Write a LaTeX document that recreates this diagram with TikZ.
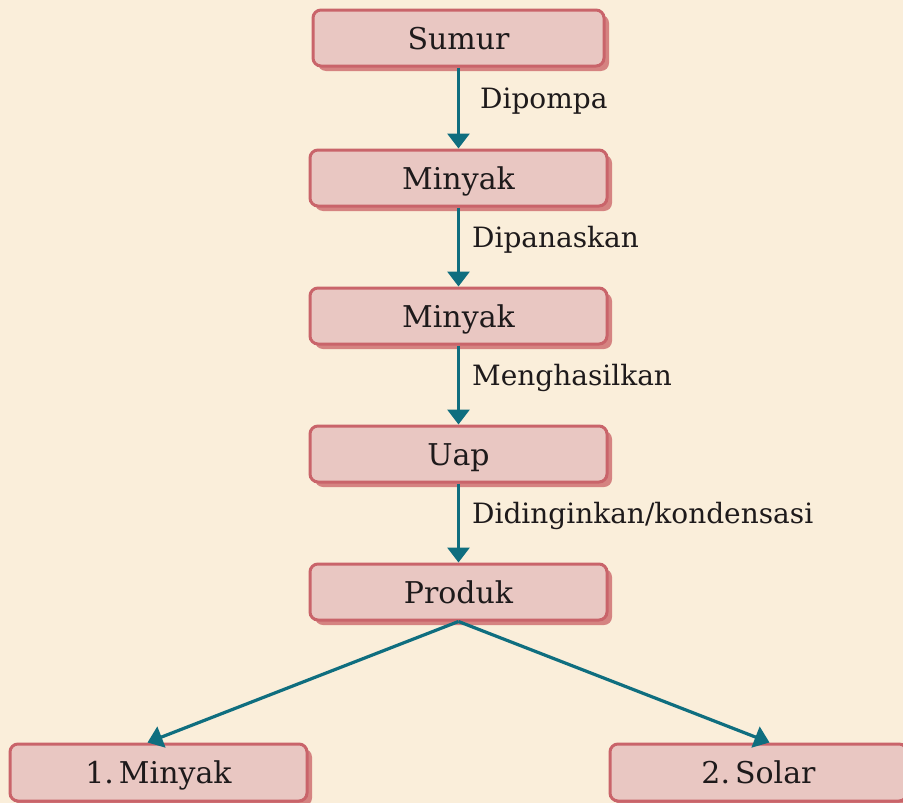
\documentclass[tikz,border=0pt]{standalone}
\usepackage{fontspec}
\setmainfont{DejaVu Serif}
\usetikzlibrary{arrows.meta,positioning,shadows}
\definecolor{bgcream}{HTML}{FAEEDA}
\definecolor{boxfill}{HTML}{E9C7C2}
\definecolor{boxline}{HTML}{C9646A}
\definecolor{boxshadow}{HTML}{D58381}
\definecolor{flowteal}{HTML}{0F6E7F}
\definecolor{ink}{HTML}{1E1A1B}
\begin{document}
\begin{tikzpicture}[x=1pt,y=-1pt,
  box/.style={draw=boxline,fill=boxfill,line width=3pt,rounded corners=8pt,
    minimum width=297pt,minimum height=56pt,inner sep=0pt,text=ink,
    text height=22pt,text depth=0pt,
    font=\fontsize{30}{34}\selectfont,
    drop shadow={shadow xshift=5pt,shadow yshift=-5pt,fill=boxshadow,opacity=1}},
  flow/.style={draw=flowteal,line width=3.2pt,-{Triangle[width=22pt,length=15pt]}},
  lbl/.style={font=\fontsize{28}{32}\selectfont,text=ink,anchor=base west,
    inner sep=0pt,xshift=12pt}]
  % background
  \fill[bgcream] (0,0) rectangle (903,803);
  \useasboundingbox (0,0) rectangle (903,803);
  % process chain
  \node[box,minimum width=291pt] (sumur) at (458.5,38) {Sumur};
  \node[box] (minyak) at (458.5,178) {Minyak};
  \node[box] (minyakb) at (458.5,316) {Minyak};
  \node[box] (uap) at (458.5,454) {Uap};
  \node[box] (produk) at (458.5,592) {Produk};
  % products
  \node[box,minimum height=57pt] (hasila) at (158.5,772.5) {1.\,Minyak};
  \node[box,minimum height=57pt] (hasilb) at (758.5,772.5) {2.\,Solar};
  % arrows
  \draw[flow] (sumur) -- (minyak) node[lbl,midway,xshift=8pt] {Dipompa};
  \draw[flow] (minyak) -- (minyakb) node[lbl,midway] {Dipanaskan};
  \draw[flow] (minyakb) -- (uap) node[lbl,midway] {Menghasilkan};
  \draw[flow] (uap) -- (produk) node[lbl,midway] {Didinginkan/kondensasi};
  \draw[flow] (produk.south) -- ([xshift=-11pt]hasila.north);
  \draw[flow] (produk.south) -- ([xshift=11pt]hasilb.north);
\end{tikzpicture}
\end{document}
